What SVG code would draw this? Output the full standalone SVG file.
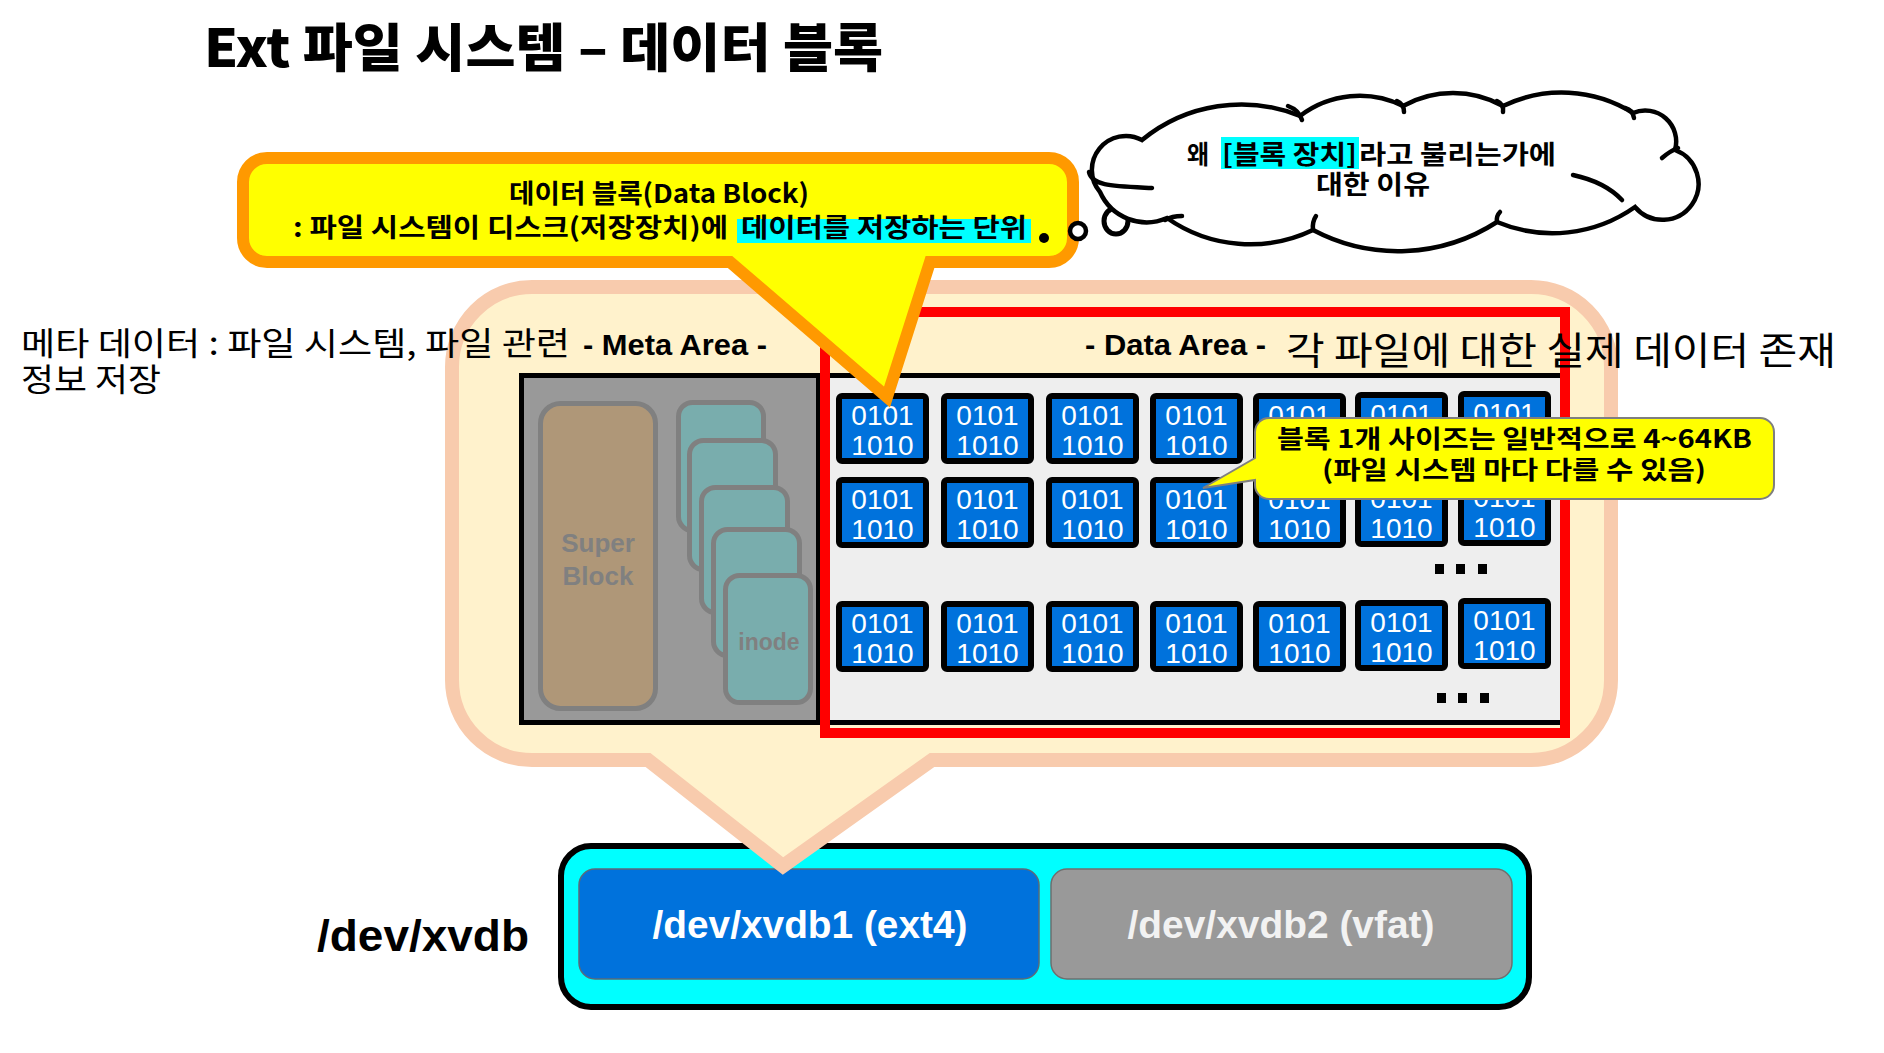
<svg xmlns="http://www.w3.org/2000/svg" width="1884" height="1053" viewBox="0 0 1884 1053">
<style>
.kr{font-family:"Noto Sans CJK KR","Noto Sans",sans-serif}
.lat{font-family:"Liberation Sans",Arial,sans-serif}
.b{font-weight:700}
.blk rect{fill:#0072DC;stroke:#000;stroke-width:6}
.blk text{font-family:"Liberation Sans",Arial,sans-serif;font-size:28px;fill:#fff;text-anchor:middle}
.card{fill:#79ADAD;stroke:#808080;stroke-width:5}
.dot{fill:#000}
.cl{fill:none;stroke:#000;stroke-width:4.5;stroke-linecap:round}
</style>
<rect x="0" y="0" width="1884" height="1053" fill="#fff"/>

<g id="title">
<text class="kr" x="204" y="67" font-size="52" font-weight="900" textLength="679" lengthAdjust="spacingAndGlyphs">Ext 파일 시스템 – 데이터 블록</text>
</g>

<g id="disk">
<rect x="561" y="846" width="968" height="161" rx="30" fill="#00FFFF" stroke="#000" stroke-width="6"/>
<text class="lat b" x="317" y="951" font-size="44" textLength="212" lengthAdjust="spacingAndGlyphs">/dev/xvdb</text>
</g>
<g id="part1">
<rect x="579" y="869" width="460" height="110" rx="16" fill="#0072DC" stroke="#5A6A7A" stroke-width="1.5"/>
<text class="lat b" x="810" y="938" font-size="38" fill="#fff" text-anchor="middle" textLength="315" lengthAdjust="spacingAndGlyphs">/dev/xvdb1 (ext4)</text>
</g>
<g id="part2">
<rect x="1051" y="869" width="461" height="110" rx="16" fill="#999999" stroke="#6F6F6F" stroke-width="1.5"/>
<text class="lat b" x="1281" y="938" font-size="38" fill="#F2F2F2" text-anchor="middle" textLength="307" lengthAdjust="spacingAndGlyphs">/dev/xvdb2 (vfat)</text>
</g>

<g id="fs-callout">
<path d="M532,287 H1531 A80,80 0 0 1 1611,367 V680 A80,80 0 0 1 1531,760 H932 L783,866 L648,760 H532 A80,80 0 0 1 452,680 V367 A80,80 0 0 1 532,287 Z" fill="#FFF2CC" stroke="#F8CBAD" stroke-width="14"/>
</g>

<g id="meta-area">
<rect x="521.5" y="375.5" width="297" height="347" fill="#999999" stroke="#000" stroke-width="5"/>
<text class="lat b" x="583" y="355" font-size="29" textLength="184" lengthAdjust="spacingAndGlyphs">- Meta Area -</text>
</g>
<g id="superblock">
<rect x="540.5" y="403.5" width="115" height="305" rx="20" fill="#AF9778" stroke="#808080" stroke-width="5"/>
<text class="lat b" x="598" y="552" font-size="26" fill="#808080" text-anchor="middle">Super</text>
<text class="lat b" x="598" y="585" font-size="26" fill="#808080" text-anchor="middle">Block</text>
</g>
<g id="inodes">
<rect class="card" x="678.5" y="402.5" width="85" height="128" rx="14"/>
<rect class="card" x="689.5" y="440.5" width="86" height="129" rx="14"/>
<rect class="card" x="701.5" y="487.5" width="86" height="125" rx="14"/>
<rect class="card" x="713.5" y="529.5" width="86" height="126" rx="14"/>
<rect class="card" x="725.5" y="575.5" width="85" height="127" rx="14"/>
<text class="lat b" x="769" y="650" font-size="23" fill="#808080" text-anchor="middle">inode</text>
</g>

<g id="data-area">
<rect x="826" y="375.5" width="737" height="347" fill="#EEEEEE" stroke="#000" stroke-width="5"/>
<rect x="825" y="312" width="740" height="421" fill="none" stroke="#FF0000" stroke-width="10"/>
<text class="lat b" x="1085" y="355" font-size="29" textLength="181" lengthAdjust="spacingAndGlyphs">- Data Area -</text>
<rect class="dot" x="1435" y="564" width="9" height="10"/>
<rect class="dot" x="1456" y="564" width="9" height="10"/>
<rect class="dot" x="1478" y="564" width="9" height="10"/>
<rect class="dot" x="1437" y="693" width="9" height="10"/>
<rect class="dot" x="1458" y="693" width="9" height="10"/>
<rect class="dot" x="1480" y="693" width="9" height="10"/>
</g>

<g id="b1-1" class="blk"><rect x="839" y="396" width="87" height="65" rx="3"/><text x="882.5" y="425">0101</text><text x="882.5" y="455">1010</text></g>
<g id="b1-2" class="blk"><rect x="944" y="396" width="87" height="65" rx="3"/><text x="987.5" y="425">0101</text><text x="987.5" y="455">1010</text></g>
<g id="b1-3" class="blk"><rect x="1049" y="396" width="87" height="65" rx="3"/><text x="1092.5" y="425">0101</text><text x="1092.5" y="455">1010</text></g>
<g id="b1-4" class="blk"><rect x="1153" y="396" width="87" height="65" rx="3"/><text x="1196.5" y="425">0101</text><text x="1196.5" y="455">1010</text></g>
<g id="b1-5" class="blk"><rect x="1256" y="396" width="87" height="65" rx="3"/><text x="1299.5" y="425">0101</text><text x="1299.5" y="455">1010</text></g>
<g id="b1-6" class="blk"><rect x="1358" y="395" width="87" height="65" rx="3"/><text x="1401.5" y="424">0101</text><text x="1401.5" y="454">1010</text></g>
<g id="b1-7" class="blk"><rect x="1461" y="394" width="87" height="65" rx="3"/><text x="1504.5" y="423">0101</text><text x="1504.5" y="453">1010</text></g>

<g id="b2-1" class="blk"><rect x="839" y="480" width="87" height="65" rx="3"/><text x="882.5" y="509">0101</text><text x="882.5" y="539">1010</text></g>
<g id="b2-2" class="blk"><rect x="944" y="480" width="87" height="65" rx="3"/><text x="987.5" y="509">0101</text><text x="987.5" y="539">1010</text></g>
<g id="b2-3" class="blk"><rect x="1049" y="480" width="87" height="65" rx="3"/><text x="1092.5" y="509">0101</text><text x="1092.5" y="539">1010</text></g>
<g id="b2-4" class="blk"><rect x="1153" y="480" width="87" height="65" rx="3"/><text x="1196.5" y="509">0101</text><text x="1196.5" y="539">1010</text></g>
<g id="b2-5" class="blk"><rect x="1256" y="480" width="87" height="65" rx="3"/><text x="1299.5" y="509">0101</text><text x="1299.5" y="539">1010</text></g>
<g id="b2-6" class="blk"><rect x="1358" y="479" width="87" height="65" rx="3"/><text x="1401.5" y="508">0101</text><text x="1401.5" y="538">1010</text></g>
<g id="b2-7" class="blk"><rect x="1461" y="478" width="87" height="65" rx="3"/><text x="1504.5" y="507">0101</text><text x="1504.5" y="537">1010</text></g>

<g id="b3-1" class="blk"><rect x="839" y="604" width="87" height="65" rx="3"/><text x="882.5" y="633">0101</text><text x="882.5" y="663">1010</text></g>
<g id="b3-2" class="blk"><rect x="944" y="604" width="87" height="65" rx="3"/><text x="987.5" y="633">0101</text><text x="987.5" y="663">1010</text></g>
<g id="b3-3" class="blk"><rect x="1049" y="604" width="87" height="65" rx="3"/><text x="1092.5" y="633">0101</text><text x="1092.5" y="663">1010</text></g>
<g id="b3-4" class="blk"><rect x="1153" y="604" width="87" height="65" rx="3"/><text x="1196.5" y="633">0101</text><text x="1196.5" y="663">1010</text></g>
<g id="b3-5" class="blk"><rect x="1256" y="604" width="87" height="65" rx="3"/><text x="1299.5" y="633">0101</text><text x="1299.5" y="663">1010</text></g>
<g id="b3-6" class="blk"><rect x="1358" y="603" width="87" height="65" rx="3"/><text x="1401.5" y="632">0101</text><text x="1401.5" y="662">1010</text></g>
<g id="b3-7" class="blk"><rect x="1461" y="601" width="87" height="65" rx="3"/><text x="1504.5" y="630">0101</text><text x="1504.5" y="660">1010</text></g>

<g id="meta-note">
<text class="kr" x="21" y="355" font-size="32" textLength="549" lengthAdjust="spacingAndGlyphs">메타 데이터 : 파일 시스템, 파일 관련</text>
<text class="kr" x="21" y="391" font-size="32" textLength="140" lengthAdjust="spacingAndGlyphs">정보 저장</text>
</g>
<g id="data-note">
<text class="kr" x="1286" y="364" font-size="38" textLength="550" lengthAdjust="spacingAndGlyphs">각 파일에 대한 실제 데이터 존재</text>
</g>

<g id="block-callout">
<path d="M267,158 H1049 A24,24 0 0 1 1073,182 V238 A24,24 0 0 1 1049,262 H930 L887,397 L730,262 H267 A24,24 0 0 1 243,238 V182 A24,24 0 0 1 267,158 Z" fill="#FFFF00" stroke="#FF9900" stroke-width="12"/>
<text class="kr b" x="509" y="203" font-size="26" textLength="300" lengthAdjust="spacingAndGlyphs">데이터 블록(Data Block)</text>
<rect x="737" y="219" width="294" height="24" fill="#00FFFF"/>
<text class="kr b" x="293" y="237" font-size="26" textLength="435" lengthAdjust="spacingAndGlyphs">: 파일 시스템이 디스크(저장장치)에</text>
<text class="kr b" x="741" y="237" font-size="26" textLength="286" lengthAdjust="spacingAndGlyphs">데이터를 저장하는 단위</text>
</g>

<g id="size-callout">
<path d="M1269,418 H1760 A14,14 0 0 1 1774,432 V485 A14,14 0 0 1 1760,499 H1269 A14,14 0 0 1 1255,485 V480 L1203,488 L1255,458 V432 A14,14 0 0 1 1269,418 Z" fill="#FFFF00" stroke="#7F7F7F" stroke-width="2"/>
<text class="kr b" x="1277" y="448" font-size="25" textLength="475" lengthAdjust="spacingAndGlyphs">블록 1개 사이즈는 일반적으로 4~64KB</text>
<text class="kr b" x="1322" y="479" font-size="25" textLength="384" lengthAdjust="spacingAndGlyphs">(파일 시스템 마다 다를 수 있음)</text>
</g>

<g id="thought-cloud">
<circle cx="1044" cy="238" r="5" fill="#000"/>
<circle cx="1078" cy="231" r="8" fill="#fff" stroke="#000" stroke-width="4.5"/>
<ellipse cx="1116" cy="221" rx="12" ry="13" fill="#fff" stroke="#000" stroke-width="5"/>
<path d="M1100,192 A34,34 0 0 1 1142,140 A156,156 0 0 1 1300,116 A98,98 0 0 1 1403,106 A103,103 0 0 1 1503,106 A135,135 0 0 1 1633,113 A31,31 0 0 1 1675,150 A36,36 0 1 1 1635,207 A143,143 0 0 1 1497,222 A182,182 0 0 1 1313,230 A145,145 0 0 1 1167,218 A51,51 0 0 1 1100,192 Z" fill="#fff" stroke="#000" stroke-width="4.5"/>
<path class="cl" d="M1089,172 C1092,186 1112,186 1152,188"/>
<path class="cl" d="M1288,106 Q1299,110 1302,120"/>
<path class="cl" d="M1397,101 Q1404,104 1404,112"/>
<path class="cl" d="M1497,101 Q1504,104 1503,112"/>
<path class="cl" d="M1625,108 Q1633,110 1634,118"/>
<path class="cl" d="M1678,148 Q1670,151 1662,158"/>
<path class="cl" d="M1573,175 Q1605,182 1622,200"/>
<path class="cl" d="M1497,222 Q1496,216 1500,212"/>
<path class="cl" d="M1313,230 Q1312,222 1316,216"/>
<path class="cl" d="M1165,220 Q1172,216 1182,216"/>
<rect x="1221" y="137" width="138" height="32" fill="#00FFFF"/>
<text class="kr b" x="1187" y="164" font-size="26" textLength="22" lengthAdjust="spacingAndGlyphs">왜</text>
<text class="kr b" x="1222" y="164" font-size="26" textLength="135" lengthAdjust="spacingAndGlyphs">[블록 장치]</text>
<text class="kr b" x="1359" y="164" font-size="26" textLength="197" lengthAdjust="spacingAndGlyphs">라고 불리는가에</text>
<text class="kr b" x="1316" y="194" font-size="26" textLength="114" lengthAdjust="spacingAndGlyphs">대한 이유</text>
</g>
</svg>
